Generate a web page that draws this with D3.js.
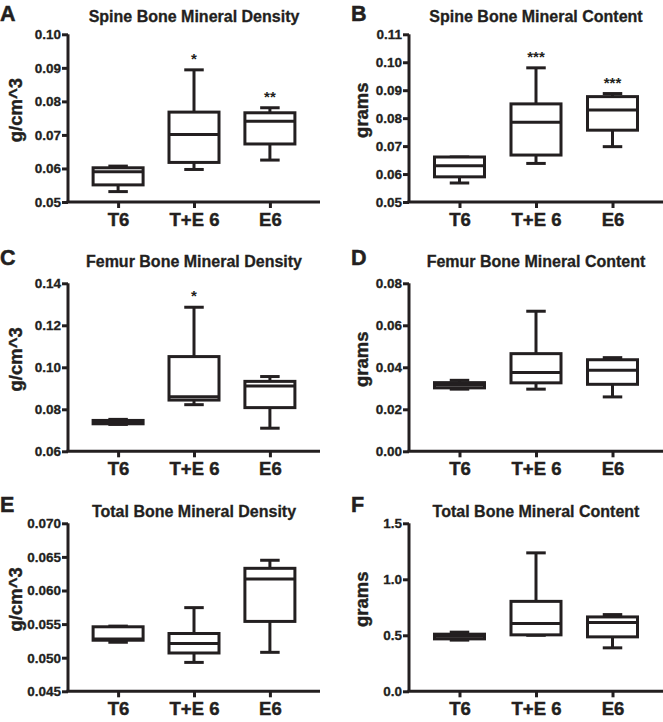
<!DOCTYPE html>
<html>
<head>
<meta charset="utf-8">
<script src="https://cdn.jsdelivr.net/npm/d3@7"></script>
<style>
  html, body { margin: 0; padding: 0; background: #fff; }
  svg { display: block; font-family: "Liberation Sans", Arial, Helvetica, sans-serif; font-weight: bold; }
</style>
</head>
<body>
<svg id="chart" width="663" height="722"></svg>
<script>
// ---- Data (box stats: [min, q1, median, q3, max]) ----
const categories = ["T6", "T+E 6", "E6"];

const spineBMD = [
  [0.0531, 0.0551, 0.0590, 0.0602, 0.0607],
  [0.0597, 0.0618, 0.0701, 0.0768, 0.0894],
  [0.0625, 0.0673, 0.0741, 0.0766, 0.0781]
];
const spineBMC = [
  [0.0568, 0.0590, 0.0630, 0.0661, 0.0661],
  [0.0638, 0.0668, 0.0785, 0.0851, 0.0980],
  [0.0698, 0.0757, 0.0829, 0.0877, 0.0888]
];
const femurBMD = [
  [0.0728, 0.0731, 0.0739, 0.0747, 0.0752],
  [0.0822, 0.0844, 0.0860, 0.1051, 0.1286],
  [0.0710, 0.0808, 0.0911, 0.0933, 0.0956]
];
const femurBMC = [
  [0.0296, 0.0302, 0.0316, 0.0327, 0.0338],
  [0.0296, 0.0326, 0.0375, 0.0465, 0.0667],
  [0.0259, 0.0319, 0.0386, 0.0436, 0.0446]
];
const totalBMD = [
  [0.0523, 0.0526, 0.0528, 0.0546, 0.0547],
  [0.0493, 0.0507, 0.0521, 0.0536, 0.05745],
  [0.0508, 0.0554, 0.0617, 0.0633, 0.0645]
];
const totalBMC = [
  [0.457, 0.468, 0.492, 0.510, 0.528],
  [0.500, 0.504, 0.605, 0.803, 1.236],
  [0.388, 0.486, 0.614, 0.664, 0.685]
];

const panelLetters = ["A", "B", "C", "D", "E", "F"];
const panelTitles = [
  "Spine Bone Mineral Density", "Spine Bone Mineral Content",
  "Femur Bone Mineral Density", "Femur Bone Mineral Content",
  "Total Bone Mineral Density", "Total Bone Mineral Content"
];
const yLabels = ["g/cm^3", "grams", "g/cm^3", "grams", "g/cm^3", "grams"];

const yTicksA = [0.05, 0.06, 0.07, 0.08, 0.09, 0.10];
const yTicksB = [0.05, 0.06, 0.07, 0.08, 0.09, 0.10, 0.11];
const yTicksC = [0.06, 0.08, 0.10, 0.12, 0.14];
const yTicksD = [0.00, 0.02, 0.04, 0.06, 0.08];
const yTicksE = [0.045, 0.050, 0.055, 0.060, 0.065, 0.070];
const yTicksF = [0.0, 0.5, 1.0, 1.5];
const tickFormats = [".2f", ".2f", ".2f", ".2f", ".3f", ".1f"];

const sigA = ["", "*", "**"];
const sigB = ["", "***", "***"];
const sigC = ["", "*", ""];
const sigD = ["", "", ""];
const sigE = ["", "", ""];
const sigF = ["", "", ""];

// ---- Layout ----
const panelData = [spineBMD, spineBMC, femurBMD, femurBMC, totalBMD, totalBMC];
const panelTicks = [yTicksA, yTicksB, yTicksC, yTicksD, yTicksE, yTicksF];
const panelSig = [sigA, sigB, sigC, sigD, sigE, sigF];

const colX0 = [68, 409], colX1 = [320, 663];
const rowTop = [34.3, 283.3, 523.3], rowBot = [202, 451.3, 691.3];
const titleY = [22, 267, 517];
const letterX = [0, 351], letterY = [21, 265, 512];
const ink = "#231f20";
const lw = 3;

const svg = d3.select("#chart");

function heavy(sel, w) {
  return sel.attr("stroke", ink).attr("stroke-width", w).attr("paint-order", "stroke");
}

panelData.forEach((data, i) => {
  const col = i % 2, row = Math.floor(i / 2);
  const x0 = colX0[col], x1 = colX1[col];
  const yT = rowTop[row], yB = rowBot[row];
  const ticks = panelTicks[i];

  const x = d3.scalePoint().domain(categories).range([x0, x1]).padding(0.66);
  const y = d3.scaleLinear().domain([ticks[0], ticks[ticks.length - 1]]).range([yB, yT]);

  const g = svg.append("g");

  // panel letter
  heavy(g.append("text").attr("x", letterX[col]).attr("y", letterY[row])
    .attr("font-size", 21.5).attr("fill", ink).text(panelLetters[i]), 0.5);

  // title
  heavy(g.append("text").attr("x", (x0 + x1) / 2).attr("y", titleY[row])
    .attr("text-anchor", "middle").attr("font-size", 16).attr("fill", ink)
    .text(panelTitles[i]), 0.3);

  // y label
  const cy = (yT + yB) / 2 - 8;
  const lx = col === 0 ? 22 : 368;
  heavy(g.append("text").attr("transform", `translate(${lx},${cy}) rotate(-90)`)
    .attr("text-anchor", "middle").attr("font-size", 18.5).attr("fill", ink)
    .text(yLabels[i]), 0.4);

  // y axis
  const yAxis = g.append("g").attr("transform", `translate(${x0},0)`)
    .call(d3.axisLeft(y).tickValues(ticks).tickFormat(d3.format(tickFormats[i]))
      .tickSize(6).tickSizeOuter(0).tickPadding(1));
  // x axis
  const xAxis = g.append("g").attr("transform", `translate(0,${yB})`)
    .call(d3.axisBottom(x).tickSize(6).tickSizeOuter(0).tickPadding(5));

  [yAxis, xAxis].forEach(a => {
    a.attr("font-family", null);
    a.select(".domain").attr("stroke", ink).attr("stroke-width", lw);
    a.selectAll(".tick line").attr("stroke", ink).attr("stroke-width", lw);
    heavy(a.selectAll("text").attr("fill", ink), 0.3);
  });
  yAxis.attr("font-size", 13.5);
  xAxis.attr("font-size", 18.5);
  xAxis.selectAll("text").attr("stroke-width", 0.45);
  xAxis.select(".domain").attr("d", `M${x0 - lw / 2},0H${x1}`);
  yAxis.select(".domain").attr("d", `M0,${y.range()[1]}V${y.range()[0]}`);

  // boxes
  const boxW = 50, capW = 19.5;
  const b = g.append("g").attr("fill", "none").attr("stroke", ink).attr("stroke-width", lw);
  data.forEach((s, j) => {
    const cx = x(categories[j]);
    const [mn, q1, md, q3, mx] = s;
    b.append("line").attr("x1", cx).attr("x2", cx).attr("y1", y(mx)).attr("y2", y(q3));
    b.append("line").attr("x1", cx).attr("x2", cx).attr("y1", y(q1)).attr("y2", y(mn));
    b.append("line").attr("x1", cx - capW / 2).attr("x2", cx + capW / 2).attr("y1", y(mx)).attr("y2", y(mx));
    b.append("line").attr("x1", cx - capW / 2).attr("x2", cx + capW / 2).attr("y1", y(mn)).attr("y2", y(mn));
    b.append("rect").attr("x", cx - boxW / 2).attr("width", boxW)
      .attr("y", y(q3)).attr("height", Math.max(0, y(q1) - y(q3))).attr("fill", "#fff");
    b.append("line").attr("x1", cx - boxW / 2).attr("x2", cx + boxW / 2).attr("y1", y(md)).attr("y2", y(md));
    const sig = panelSig[i][j];
    if (sig) {
      g.append("text").attr("x", cx).attr("y", y(mx) - 6).attr("text-anchor", "middle")
        .attr("font-size", 15).attr("fill", ink).text(sig);
    }
  });
});
</script>
</body>
</html>
